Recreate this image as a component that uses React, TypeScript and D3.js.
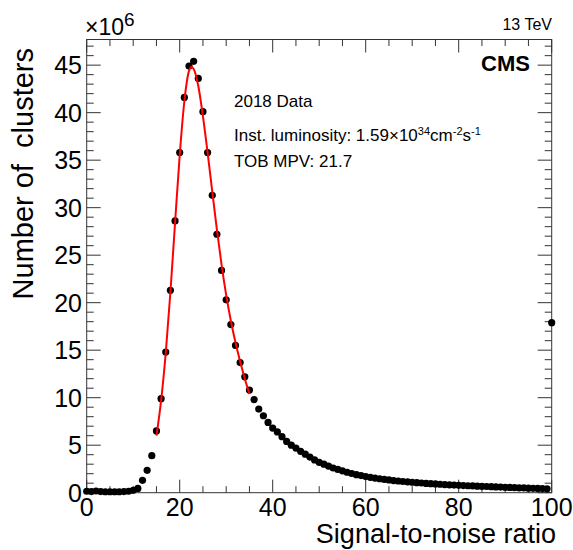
import React from "react";
import * as d3 from "d3";

const binCenters: number[] = d3.range(0, 101);
const clusterCounts: number[] = [
  0.15, 0.12, 0.18, 0.12, 0.1, 0.1, 0.1, 0.1, 0.12, 0.15,
  0.25, 0.45, 1.3, 2.35, 3.9, 6.5, 9.9, 14.8, 21.3, 28.6,
  35.8, 41.6, 44.9, 45.4, 43.6, 40.1, 35.8, 31.3, 27.2, 23.4,
  20.3, 17.7, 15.5, 13.7, 12.2, 10.8, 9.8, 8.8, 8.1, 7.4,
  6.8, 6.4, 5.9, 5.4, 5.0, 4.7, 4.35, 4.05, 3.75, 3.45,
  3.2, 3.0, 2.8, 2.6, 2.45, 2.3, 2.15, 2.02, 1.9, 1.8,
  1.7, 1.62, 1.54, 1.47, 1.4, 1.34, 1.28, 1.23, 1.18, 1.14,
  1.1, 1.06, 1.02, 0.98, 0.95, 0.92, 0.89, 0.86, 0.83, 0.8,
  0.78, 0.75, 0.73, 0.71, 0.69, 0.67, 0.65, 0.63, 0.61, 0.59,
  0.56, 0.55, 0.53, 0.51, 0.5, 0.48, 0.46, 0.45, 0.43, 0.41,
  17.9,
];

const fitX: number[] = [15, 16, 17, 18, 19, 20, 21, 22, 22.5, 23, 24, 25, 26, 27, 28, 29, 30, 31, 32, 33, 34, 35];
const fitY: number[] = [6.0, 9.7, 14.7, 21.1, 28.4, 35.5, 41.2, 44.4, 44.8, 44.6, 42.8, 39.6, 35.8, 31.7, 27.7, 24.0, 20.8, 18.1, 15.8, 13.8, 12.0, 10.4];

const xMajorTicks: number[] = [0, 20, 40, 60, 80, 100];
const yMajorTicks: number[] = [0, 5, 10, 15, 20, 25, 30, 35, 40, 45];

const W = 573;
const H = 550;
const L = 86.7;
const R = 551.7;
const T = 39.5;
const B = 492.7;
const FONT = "'Liberation Sans', Arial, Helvetica, sans-serif";

export default function App() {
  const x = d3.scaleLinear().domain([0, 100]).range([L, R]);
  const y = d3.scaleLinear().domain([0, 47.7]).range([B, T]);

  const xMinor = d3.range(0, 101, 5);
  const yMinor = d3.range(0, 48, 1);

  const fitLine = d3
    .line<number>()
    .x((_, i) => x(fitX[i]))
    .y((d) => y(d))
    .curve(d3.curveMonotoneX);

  const tickColor = "#333";

  return (
    <svg
      width={W}
      height={H}
      style={{ position: "absolute", left: 0, top: 0, background: "#fff" }}
      fontFamily={FONT}
    >
      <rect x={0} y={0} width={W} height={H} fill="#fff" />
      {/* frame */}
      <rect x={L} y={T} width={R - L} height={B - T} fill="none" stroke={tickColor} strokeWidth={1} />
      {/* x ticks bottom & top */}
      {xMinor.map((v) => {
        const major = v % 20 === 0;
        const len = major ? 13 : 6.5;
        return (
          <g key={"xt" + v}>
            <line x1={x(v)} x2={x(v)} y1={B} y2={B - len} stroke={tickColor} />
            <line x1={x(v)} x2={x(v)} y1={T} y2={T + len} stroke={tickColor} />
          </g>
        );
      })}
      {/* y ticks left & right */}
      {yMinor.map((v) => {
        const major = v % 5 === 0;
        const len = major ? 14 : 7;
        return (
          <g key={"yt" + v}>
            <line x1={L} x2={L + len} y1={y(v)} y2={y(v)} stroke={tickColor} />
            <line x1={R} x2={R - len} y1={y(v)} y2={y(v)} stroke={tickColor} />
          </g>
        );
      })}
      {/* x tick labels */}
      {xMajorTicks.map((v) => (
        <text key={"xl" + v} x={x(v)} y={516} fontSize={25} textAnchor="middle" fill="#000">
          {v}
        </text>
      ))}
      {/* y tick labels */}
      {yMajorTicks.map((v) => (
        <text key={"yl" + v} x={82} y={y(v)} dy="0.36em" fontSize={25} textAnchor="end" fill="#000">
          {v}
        </text>
      ))}
      {/* exponent */}
      <text x={85} y={35} fontSize={23} fill="#000">
        ×10
        <tspan dy={-9} fontSize={19}>6</tspan>
      </text>
      {/* axis titles */}
      <text x={556} y={543} fontSize={27} textAnchor="end" fill="#000">
        Signal-to-noise ratio
      </text>
      <text
        transform={`translate(33,48) rotate(-90)`}
        fontSize={29}
        textAnchor="end"
        fill="#000"
        style={{ whiteSpace: "pre" }}
      >
        {"Number of  clusters"}
      </text>
      {/* header texts */}
      <text x={552} y={30} fontSize={16} textAnchor="end" fill="#000">
        13 TeV
      </text>
      <text x={530} y={71} fontSize={22} fontWeight="bold" textAnchor="end" fill="#000">
        CMS
      </text>
      <text x={234} y={107} fontSize={17} fill="#000">
        2018 Data
      </text>
      <text x={234} y={141} fontSize={17} fill="#000">
        Inst. luminosity: 1.59×10
        <tspan dy={-6} fontSize={11}>34</tspan>
        <tspan dy={6}>cm</tspan>
        <tspan dy={-6} fontSize={11}>-2</tspan>
        <tspan dy={6}>s</tspan>
        <tspan dy={-6} fontSize={11}>-1</tspan>
      </text>
      <text x={234} y={167} fontSize={17} fill="#000">
        TOB MPV: 21.7
      </text>
      {/* data points */}
      {clusterCounts.map((v, i) => (
        <circle key={"p" + i} cx={x(binCenters[i])} cy={y(v)} r={3.6} fill="#000" />
      ))}
      {/* fit */}
      <path d={fitLine(fitY) || ""} fill="none" stroke="#ff0000" strokeWidth={2} />
    </svg>
  );
}
